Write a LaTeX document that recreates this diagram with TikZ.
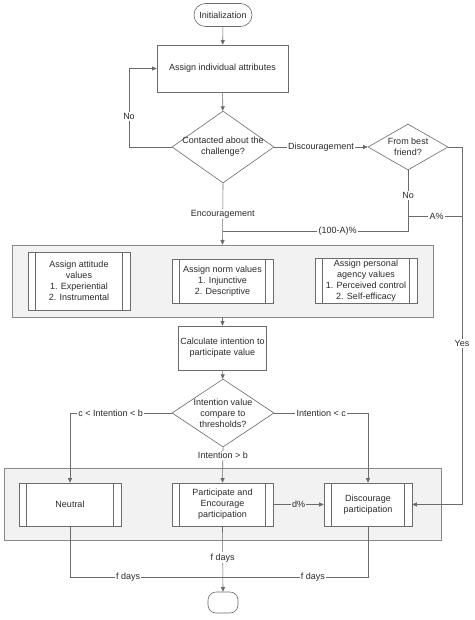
\documentclass[tikz,border=0pt]{standalone}
\usepackage{fontspec}
\setmainfont{Liberation Sans}
\usetikzlibrary{arrows.meta,shapes.geometric}
\definecolor{lc}{HTML}{6B6B6B}
\definecolor{tc}{HTML}{2A2A2A}
\definecolor{gf}{HTML}{F2F2F2}
\begin{document}
\begin{tikzpicture}[x=1pt,y=-1pt,
  font=\fontsize{9}{11}\selectfont, text=tc,
  line/.style={draw=lc, line width=0.6pt},
  arr/.style={line, -{Triangle[length=4.5pt,width=4pt]}},
  term/.style={draw=lc, fill=white, line width=0.6pt, rounded corners=#1, inner sep=1pt},
  proc/.style={draw=lc, fill=white, line width=0.6pt, align=center, inner sep=2pt},
  predef/.style={proc, path picture={
      \draw[lc, line width=0.6pt]
        ([xshift=7.5pt]path picture bounding box.north west) -- ([xshift=7.5pt]path picture bounding box.south west)
        ([xshift=-7.5pt]path picture bounding box.north east) -- ([xshift=-7.5pt]path picture bounding box.south east);}},
  dec/.style={shape=diamond, draw=lc, fill=white, line width=0.6pt, align=center,
      inner xsep=-20pt, inner ysep=-5pt},
  group/.style={draw=lc!80, fill=gf, line width=0.6pt},
  lab/.style={fill=white, inner sep=1.2pt},
  glab/.style={fill=gf, inner sep=1.2pt}
]
\useasboundingbox (0,0) rectangle (474,620);

% top part
\node[term=11.5pt, minimum width=58pt, minimum height=23pt] (init) at (223,15) {Initialization};
\node[proc, minimum width=131pt, minimum height=47pt] (attr) at (222.5,68.5) {Assign individual attributes};
\node[dec, minimum width=102pt, minimum height=72pt] (contact) at (223,147) {Contacted about the\\challenge?};
\node[dec, minimum width=80pt, minimum height=46pt] (friend) at (408,147) {From best\\friend?};

% group 1
\node[group, minimum width=421pt, minimum height=72pt] (g1) at (222.5,281) {};
\node[predef, minimum width=102pt, minimum height=58pt] (attit) at (79,281) {Assign attitude\\values\\1. Experiential\\2. Instrumental};
\node[predef, minimum width=101pt, minimum height=44pt] (norm) at (222.5,281) {Assign norm values\\1. Injunctive\\2. Descriptive};
\node[predef, minimum width=102pt, minimum height=44pt] (agency) at (366,281) {Assign personal\\agency values\\1. Perceived control\\2. Self-efficacy};

\node[proc, minimum width=87pt, minimum height=44pt] (calc) at (222.5,348) {Calculate intention to\\participate value};
\node[dec, minimum width=102pt, minimum height=68pt] (thr) at (223,413) {Intention value\\compare to\\thresholds?};

% group 2
\node[group, minimum width=437pt, minimum height=72pt] (g2) at (222.5,504) {};
\node[predef, minimum width=102pt, minimum height=43pt] (neutral) at (70,504.5) {Neutral};
\node[predef, minimum width=101pt, minimum height=43pt] (partic) at (222.5,504.5) {Participate and\\Encourage\\participation};
\node[predef, minimum width=88pt, minimum height=43pt] (discour) at (368,504.5) {Discourage\\participation};

\node[term=8pt, minimum width=30pt, minimum height=21pt] (end) at (223,602.5) {};

% helper coordinates
\coordinate (noX) at (129,0);
\coordinate (yesX) at (462,0);
\coordinate (ja) at (408,216);
\coordinate (jb) at (408,231);
\coordinate (jc) at (223,231);
\coordinate (jd) at (462,216);
\coordinate (bj) at (223,577);

% connectors
\draw[arr] (init) -- (attr);
\draw[arr] (attr) -- (contact);
\draw[arr] (contact.west) -- (contact.west -| noX) -- node[lab, pos=0.39]{No} (attr.west -| noX) -- (attr.west);
\draw[arr] (contact.east) -- node[lab]{Discouragement} (friend.west);
\draw[arr] (friend.east) -- (friend.east -| yesX) -- node[lab, pos=0.55]{Yes} (discour.east -| yesX) -- (discour.east);
\draw[line] (friend.south) -- node[lab, pos=0.41]{No} (jb) -- node[lab, pos=0.38]{(100-A)\%} (jc);
\draw[line] (ja) -- node[lab, pos=0.53]{A\%} (jd);
\draw[arr] (contact.south) -- node[lab]{Encouragement} (g1.north);
\draw[arr] (g1.south) -- (calc.north);
\draw[arr] (calc) -- (thr);
\draw[arr] (thr.west) -- node[lab, pos=0.6]{c < Intention < b} (thr.west -| neutral.north) -- (neutral.north);
\draw[arr] (thr.east) -- node[lab]{Intention < c} (thr.east -| discour.north) -- (discour.north);
\draw[arr] (thr.south) -- node[lab, pos=0.22]{Intention > b} (partic.north);
\draw[arr] (partic.east) -- node[glab]{d\%} (discour.west);
\draw[line] (neutral.south) |- node[lab, pos=0.69]{f days} (bj);
\draw[line] (discour.south) |- node[lab, pos=0.69]{f days} (bj);
\draw[arr] (partic.south) -- node[lab, pos=0.48]{f days} (end.north);
\end{tikzpicture}
\end{document}
